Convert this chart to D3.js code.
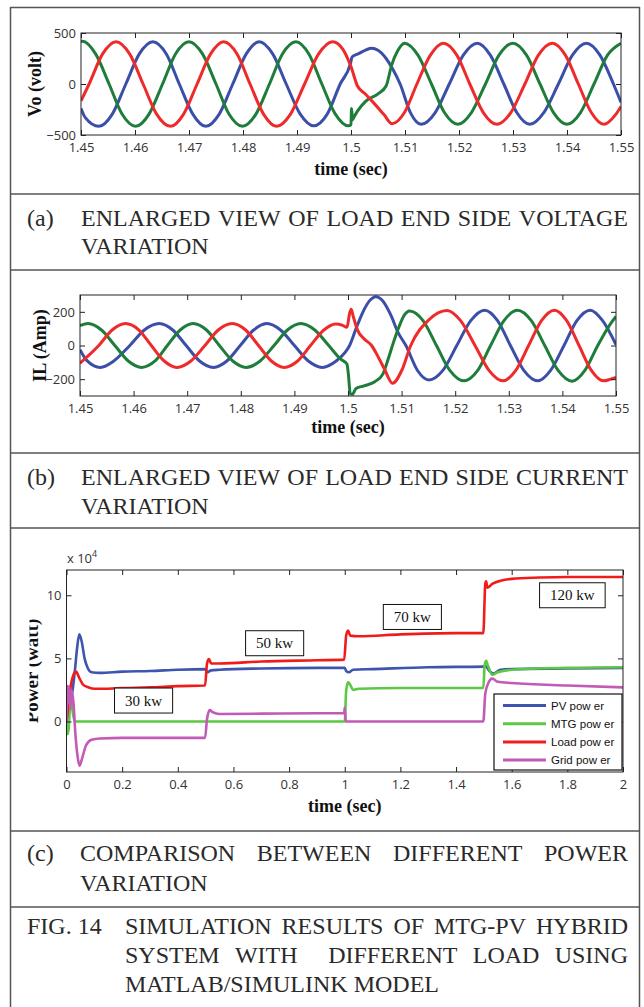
<!DOCTYPE html>
<html>
<head>
<meta charset="utf-8">
<script src="https://cdnjs.cloudflare.com/ajax/libs/d3/7.8.5/d3.min.js"></script>
<style>
  body { margin: 0; background: #fff; }
  svg { display: block; }
</style>
</head>
<body>
<svg id="fig" width="644" height="1007"></svg>
<script>
// ---- data ----

// (a) load end voltage, [time s, volt]
var voltBlue = [[1.4500,-240],[1.4508,-330],[1.4533,-415],[1.4558,-295],[1.4583,0],[1.4608,295],[1.4633,415],[1.4658,295],[1.4682,0],[1.4707,-295],[1.4731,-415],[1.4756,-295],[1.4781,0],[1.4806,295],[1.4830,415],[1.4855,295],[1.4880,0],[1.4906,-295],[1.4931,-410],[1.4956,-295],[1.4980,0],[1.4999,200],[1.5002,265],[1.5015,300],[1.5028,335],[1.5038,350],[1.5050,330],[1.5065,250],[1.5078,140],[1.5091,0],[1.5110,-280],[1.5130,-395],[1.5156,-280],[1.5182,0],[1.5208,283],[1.5234,400],[1.5258,283],[1.5283,0],[1.5307,-280],[1.5331,-395],[1.5357,-280],[1.5384,0],[1.5410,283],[1.5436,400],[1.5461,283],[1.5486,0],[1.5500,-180]];
var voltRed = [[1.4500,-165],[1.4515,0],[1.4540,295],[1.4565,415],[1.4590,295],[1.4615,0],[1.4640,-295],[1.4666,-415],[1.4690,-295],[1.4715,0],[1.4740,295],[1.4764,415],[1.4789,295],[1.4813,0],[1.4838,-295],[1.4862,-415],[1.4888,-295],[1.4914,0],[1.4940,295],[1.4966,415],[1.4985,340],[1.5000,170],[1.5012,-20],[1.5027,-100],[1.5042,-185],[1.5061,-300],[1.5076,-390],[1.5099,-280],[1.5122,0],[1.5147,283],[1.5171,400],[1.5196,283],[1.5220,0],[1.5245,-280],[1.5270,-395],[1.5296,-280],[1.5322,0],[1.5347,283],[1.5373,400],[1.5397,283],[1.5421,0],[1.5445,-280],[1.5468,-395],[1.5490,-300],[1.5500,-220]];
var voltGreen = [[1.4500,415],[1.4503,418],[1.4527,295],[1.4552,0],[1.4576,-295],[1.4601,-415],[1.4626,-295],[1.4651,0],[1.4675,295],[1.4700,415],[1.4725,295],[1.4750,0],[1.4774,-295],[1.4799,-415],[1.4824,-295],[1.4849,0],[1.4873,295],[1.4898,415],[1.4922,295],[1.4946,0],[1.4971,-295],[1.4995,-410],[1.5000,-400],[1.5001,-240],[1.5003,-350],[1.5005,-330],[1.5012,-266],[1.5027,-170],[1.5050,-97],[1.5065,-20],[1.5075,180],[1.5087,330],[1.5099,400],[1.5124,283],[1.5149,0],[1.5173,-280],[1.5198,-395],[1.5223,-280],[1.5249,0],[1.5274,283],[1.5300,400],[1.5325,283],[1.5350,0],[1.5375,-280],[1.5400,-395],[1.5425,-280],[1.5450,0],[1.5475,283],[1.5500,400]];

// (b) load end current, [time s, amp]
var ampBlue = [[1.4500,-25],[1.4513,-90],[1.4538,-130],[1.4563,-92],[1.4593,0],[1.4620,92],[1.4648,130],[1.4673,92],[1.4698,0],[1.4723,-92],[1.4749,-130],[1.4774,-92],[1.4799,0],[1.4824,92],[1.4849,130],[1.4874,92],[1.4900,0],[1.4926,-92],[1.4952,-130],[1.4978,-92],[1.4995,-40],[1.5003,0],[1.5015,100],[1.5028,200],[1.5040,265],[1.5052,290],[1.5065,265],[1.5080,180],[1.5093,80],[1.5108,0],[1.5130,-150],[1.5151,-205],[1.5177,-148],[1.5203,0],[1.5229,148],[1.5255,210],[1.5279,148],[1.5303,0],[1.5328,-148],[1.5354,-210],[1.5378,-148],[1.5403,0],[1.5427,148],[1.5452,210],[1.5475,148],[1.5500,5]];
var ampRed = [[1.4500,-105],[1.4535,0],[1.4560,92],[1.4585,130],[1.4610,92],[1.4633,0],[1.4657,-92],[1.4681,-130],[1.4707,-92],[1.4733,0],[1.4758,92],[1.4784,130],[1.4809,92],[1.4833,0],[1.4857,-92],[1.4881,-130],[1.4906,-92],[1.4930,0],[1.4955,92],[1.4977,128],[1.4990,120],[1.4998,108],[1.5003,190],[1.5006,215],[1.5010,170],[1.5018,90],[1.5030,40],[1.5044,0],[1.5055,-60],[1.5068,-140],[1.5083,-224],[1.5100,-150],[1.5117,0],[1.5150,150],[1.5185,208],[1.5210,148],[1.5237,0],[1.5263,-148],[1.5289,-210],[1.5313,-148],[1.5337,0],[1.5361,148],[1.5385,210],[1.5408,148],[1.5431,0],[1.5454,-148],[1.5477,-210],[1.5490,-200],[1.5500,-190]];
var ampGreen = [[1.4500,118],[1.4515,130],[1.4540,92],[1.4565,0],[1.4590,-92],[1.4615,-130],[1.4640,-92],[1.4663,0],[1.4687,92],[1.4711,130],[1.4736,92],[1.4760,0],[1.4785,-92],[1.4810,-130],[1.4836,-92],[1.4862,0],[1.4887,92],[1.4912,130],[1.4938,92],[1.4964,0],[1.4986,-80],[1.4998,-110],[1.5001,-180],[1.5004,-285],[1.5008,-290],[1.5015,-255],[1.5030,-240],[1.5050,-215],[1.5065,-170],[1.5075,-80],[1.5085,20],[1.5095,110],[1.5105,180],[1.5115,205],[1.5140,148],[1.5165,0],[1.5190,-148],[1.5216,-210],[1.5242,-148],[1.5266,0],[1.5291,148],[1.5316,210],[1.5342,148],[1.5367,0],[1.5392,-148],[1.5418,-212],[1.5442,-148],[1.5466,0],[1.5490,130],[1.5500,172]];

// (c) powers, [time s, watt x 10^4]
var pvPower = [[0,0],[0.005,0.5],[0.012,1.2],[0.02,2.2],[0.03,4.0],[0.038,5.8],[0.046,6.9],[0.055,6.3],[0.065,5.0],[0.077,4.2],[0.09,3.9],[0.12,3.85],[0.2,3.95],[0.3,4.0],[0.4,4.1],[0.5,4.15],[0.505,3.9],[0.52,4.05],[0.55,4.1],[0.7,4.2],[0.9,4.25],[1.0,4.25],[1.005,4.0],[1.015,3.9],[1.03,4.1],[1.1,4.15],[1.3,4.3],[1.5,4.35],[1.505,4.4],[1.52,4.0],[1.535,3.8],[1.56,4.1],[1.6,4.15],[1.8,4.2],[2.0,4.25]];
var mtgPower = [[0,0],[0.004,-1.0],[0.008,-0.5],[0.012,1.0],[0.016,1.8],[0.022,0.8],[0.03,0],[0.5,0],[1.0,0],[1.005,2.4],[1.012,3.1],[1.02,2.9],[1.03,2.5],[1.05,2.6],[1.2,2.65],[1.498,2.65],[1.503,4.5],[1.508,4.8],[1.515,4.4],[1.53,3.7],[1.55,3.9],[1.6,4.1],[1.8,4.25],[2.0,4.3]];
var loadPower = [[0,0],[0.008,1.5],[0.015,2.8],[0.022,3.5],[0.034,3.95],[0.045,3.5],[0.06,2.9],[0.08,2.7],[0.1,2.6],[0.15,2.6],[0.2,2.65],[0.3,2.7],[0.4,2.8],[0.498,2.85],[0.505,4.6],[0.512,4.95],[0.52,4.6],[0.55,4.6],[0.7,4.75],[0.9,4.85],[0.998,4.9],[1.005,6.8],[1.012,7.2],[1.02,6.8],[1.05,6.75],[1.2,6.9],[1.4,7.0],[1.498,7.0],[1.505,10.9],[1.508,11.1],[1.513,10.6],[1.53,10.9],[1.56,11.15],[1.6,11.3],[1.7,11.4],[1.8,11.45],[2.0,11.45]];
var gridPower = [[0,0],[0.003,2.8],[0.006,1.5],[0.009,2.8],[0.013,1.0],[0.018,2.5],[0.025,1.5],[0.032,-1.0],[0.04,-2.8],[0.047,-3.5],[0.055,-3.0],[0.07,-1.9],[0.09,-1.45],[0.12,-1.35],[0.2,-1.3],[0.35,-1.3],[0.498,-1.3],[0.505,0.2],[0.515,0.9],[0.525,0.75],[0.55,0.6],[0.7,0.62],[0.9,0.65],[0.998,0.66],[1.0,1.1],[1.004,0],[1.2,0],[1.498,0],[1.505,2.2],[1.515,3.0],[1.53,3.4],[1.55,3.15],[1.6,3.05],[1.8,2.85],[2.0,2.7]];

// ticks and labels
var waveTimeTicks = [1.45, 1.46, 1.47, 1.48, 1.49, 1.5, 1.51, 1.52, 1.53, 1.54, 1.55];
var voltTicks = [-500, 0, 500];
var ampTicks = [-200, 0, 200];
var powerTimeTicks = [0, 0.2, 0.4, 0.6, 0.8, 1, 1.2, 1.4, 1.6, 1.8, 2];
var powerTicks = [0, 5, 10];
var legendNames = ['PV pow er', 'MTG pow er', 'Load pow er', 'Grid pow er'];
var loadLabels = ['30 kw', '50 kw', '70 kw', '120 kw'];

var captionA = ['ENLARGED VIEW OF LOAD END SIDE VOLTAGE', 'VARIATION'];
var captionB = ['ENLARGED VIEW OF LOAD END SIDE CURRENT', 'VARIATION'];
var captionC = ['COMPARISON BETWEEN DIFFERENT POWER', 'VARIATION'];
var captionFig = ['SIMULATION RESULTS OF MTG-PV HYBRID', 'SYSTEM WITH  DIFFERENT LOAD USING', 'MATLAB/SIMULINK MODEL'];

// ---- drawing ----
var svg = d3.select('#fig');
var defs = svg.append('defs');
var waveColors = { blue: '#3b4fa8', green: '#1e7d3a', red: '#ee2a2a' };
var powerColors = ['#3d55ae', '#5cc844', '#f01c1c', '#c25ab6'];

// table frame
var frame = svg.append('g').attr('stroke', '#555').attr('stroke-width', 1.5);
frame.append('line').attr('x1', 10.5).attr('x2', 10.5).attr('y1', 7).attr('y2', 1007);
frame.append('line').attr('x1', 639.5).attr('x2', 639.5).attr('y1', 7).attr('y2', 1007);
[7.5, 194, 270, 453, 528, 831, 907].forEach(function(yy) {
  frame.append('line').attr('x1', 10).attr('x2', 640).attr('y1', yy).attr('y2', yy);
});

function styleAxis(sel) {
  sel.attr('font-family', '"Open Sans", sans-serif').attr('font-size', 13);
  sel.selectAll('text').attr('fill', '#333');
  sel.selectAll('line').attr('stroke', '#222');
  sel.select('.domain').remove();
}

function panel(cfg) {
  var x = d3.scaleLinear().domain(cfg.xd).range([cfg.l, cfg.r]);
  var y = d3.scaleLinear().domain(cfg.yd).range([cfg.b, cfg.t]);
  var g = svg.append('g');

  defs.append('clipPath').attr('id', cfg.id)
    .append('rect').attr('x', cfg.l).attr('y', cfg.t)
    .attr('width', cfg.r - cfg.l).attr('height', cfg.b - cfg.t);

  var line = d3.line()
    .x(function(d) { return x(d[0]); })
    .y(function(d) { return y(d[1]); })
    .curve(d3.curveMonotoneX);

  g.append('g').attr('clip-path', 'url(#' + cfg.id + ')')
    .selectAll('path').data(cfg.series).enter()
    .append('path')
    .attr('d', function(s) { return line(s.data); })
    .attr('fill', 'none')
    .attr('stroke', function(s) { return s.color; })
    .attr('stroke-width', cfg.lw)
    .attr('stroke-linejoin', 'round');

  g.append('g').attr('transform', 'translate(0,' + cfg.b + ')')
    .call(d3.axisBottom(x).tickValues(cfg.xt).tickFormat(cfg.xf)
      .tickSizeInner(-5).tickSizeOuter(0).tickPadding(8))
    .call(styleAxis);
  g.append('g').attr('transform', 'translate(0,' + cfg.t + ')')
    .call(d3.axisTop(x).tickValues(cfg.xt).tickFormat('')
      .tickSizeInner(-5).tickSizeOuter(0))
    .call(styleAxis);
  g.append('g').attr('transform', 'translate(' + cfg.l + ',0)')
    .call(d3.axisLeft(y).tickValues(cfg.yt).tickFormat(d3.format('d'))
      .tickSizeInner(-5).tickSizeOuter(0).tickPadding(5))
    .call(styleAxis);
  g.append('g').attr('transform', 'translate(' + cfg.r + ',0)')
    .call(d3.axisRight(y).tickValues(cfg.yt).tickFormat('')
      .tickSizeInner(-5).tickSizeOuter(0))
    .call(styleAxis);

  g.append('rect').attr('x', cfg.l).attr('y', cfg.t)
    .attr('width', cfg.r - cfg.l).attr('height', cfg.b - cfg.t)
    .attr('fill', 'none').attr('stroke', '#222').attr('stroke-width', 1);

  g.append('text')
    .attr('x', (cfg.l + cfg.r) / 2).attr('y', cfg.xlY)
    .attr('text-anchor', 'middle')
    .attr('font-family', '"Liberation Serif", serif').attr('font-weight', 'bold')
    .attr('font-size', 18).attr('fill', '#111')
    .text('time (sec)');

  // y label sits in its own group so a clip can be applied in page space
  var ylg = g.append('g');
  if (cfg.ylClip) ylg.attr('clip-path', 'url(#' + cfg.ylClip + ')');
  ylg.append('text')
    .attr('transform', 'translate(' + cfg.ylX + ',' + (cfg.t + cfg.b) / 2 + ') rotate(-90)')
    .attr('text-anchor', 'middle')
    .attr('font-family', '"Liberation Serif", serif').attr('font-weight', 'bold')
    .attr('font-size', cfg.ylSize).attr('fill', '#111')
    .text(cfg.ylabel);

  return { x: x, y: y, g: g };
}

var fmt2 = function(d) { return String(+d.toFixed(2)); };

panel({
  id: 'clipA', l: 81, r: 621, t: 33, b: 135,
  xd: [1.45, 1.55], yd: [-500, 500], xt: waveTimeTicks, yt: voltTicks, xf: fmt2,
  lw: 3, xlY: 175, ylX: 41, ylSize: 18, ylabel: 'Vo (volt)',
  series: [
    { data: voltBlue, color: waveColors.blue },
    { data: voltGreen, color: waveColors.green },
    { data: voltRed, color: waveColors.red }
  ]
});

panel({
  id: 'clipB', l: 80, r: 616, t: 295, b: 396,
  xd: [1.45, 1.55], yd: [-300, 300], xt: waveTimeTicks, yt: ampTicks, xf: fmt2,
  lw: 3, xlY: 433, ylX: 46, ylSize: 18, ylabel: 'IL (Amp)',
  series: [
    { data: ampBlue, color: waveColors.blue },
    { data: ampGreen, color: waveColors.green },
    { data: ampRed, color: waveColors.red }
  ]
});

// clip for the cut-off power label
defs.append('clipPath').attr('id', 'clipYl')
  .append('rect').attr('x', 29.5).attr('y', 560).attr('width', 40).attr('height', 220);

var pc = panel({
  id: 'clipC', l: 66.5, r: 623, t: 570, b: 772,
  xd: [0, 2], yd: [-4, 12], xt: powerTimeTicks, yt: powerTicks, xf: fmt2,
  lw: 2.6, xlY: 812, ylX: 38, ylSize: 19, ylabel: 'Power (watt)', ylClip: 'clipYl',
  series: [
    { data: pvPower, color: powerColors[0] },
    { data: mtgPower, color: powerColors[1] },
    { data: loadPower, color: powerColors[2] },
    { data: gridPower, color: powerColors[3] }
  ]
});

// exponent
var expo = svg.append('text').attr('x', 67).attr('y', 563)
  .attr('font-family', '"Open Sans", sans-serif').attr('font-size', 13).attr('fill', '#333');
expo.append('tspan').text('x 10');
expo.append('tspan').attr('font-size', 9).attr('dy', -6).text('4');

// load step labels (centres in data units)
var labelAnchors = [[0.277, 1.66], [0.748, 6.2], [1.243, 8.28], [1.818, 10.0]];
var ann = pc.g.append('g');
loadLabels.forEach(function(lbl, i) {
  var cx = pc.x(labelAnchors[i][0]), cy = pc.y(labelAnchors[i][1]);
  var t = ann.append('text').attr('x', cx).attr('y', cy + 5)
    .attr('text-anchor', 'middle')
    .attr('font-family', '"Liberation Serif", serif').attr('font-size', 15)
    .attr('fill', '#111').text(lbl);
  var w = t.node().getComputedTextLength() + 21;
  ann.insert('rect', 'text').attr('x', cx - w / 2).attr('y', cy - 12.5)
    .attr('width', w).attr('height', 25)
    .attr('fill', '#fff').attr('stroke', '#111').attr('stroke-width', 1);
});

// legend
var lg = pc.g.append('g');
lg.append('rect').attr('x', 494).attr('y', 694).attr('width', 128).attr('height', 76)
  .attr('fill', '#fff').attr('stroke', '#111').attr('stroke-width', 1.2);
legendNames.forEach(function(name, i) {
  var yy = 705.5 + i * 18.2;
  lg.append('line').attr('x1', 503).attr('x2', 546).attr('y1', yy).attr('y2', yy)
    .attr('stroke', powerColors[i]).attr('stroke-width', 3);
  lg.append('text').attr('x', 551).attr('y', yy + 4)
    .attr('font-family', '"Liberation Sans", Arial, sans-serif').attr('font-size', 11.5)
    .attr('fill', '#111').text(name);
});

// captions
var cap = svg.append('g')
  .attr('font-family', '"Liberation Serif", "Times New Roman", serif')
  .attr('font-size', 24).attr('fill', '#2a2a2a');

function justifyLine(str, x0, x1, y) {
  var tokens = str.split(' ');
  var words = tokens.filter(function(w) { return w.length; });
  var nodes = words.map(function(w) { return cap.append('text').attr('y', y).text(w); });
  var widths = nodes.map(function(n) { return n.node().getComputedTextLength(); });
  var gaps = tokens.length - 1;
  var gap = gaps > 0 ? (x1 - x0 - d3.sum(widths)) / gaps : 0;
  var x = x0, wi = 0;
  tokens.forEach(function(tk) {
    if (!tk.length) { x += gap; return; }
    nodes[wi].attr('x', x);
    x += widths[wi] + gap;
    wi++;
  });
}

function caption(tag, lines, xText, y0, dy) {
  cap.append('text').attr('x', 27).attr('y', y0).text(tag);
  lines.forEach(function(l, i) {
    if (i < lines.length - 1) justifyLine(l, xText, 628, y0 + i * dy);
    else cap.append('text').attr('x', xText).attr('y', y0 + i * dy).text(l);
  });
}

caption('(a)', captionA, 81, 226, 28);
caption('(b)', captionB, 81, 485, 28.5);
caption('(c)', captionC, 80, 861, 30);
caption('FIG. 14', captionFig, 125, 934, 29);
</script>
</body>
</html>
